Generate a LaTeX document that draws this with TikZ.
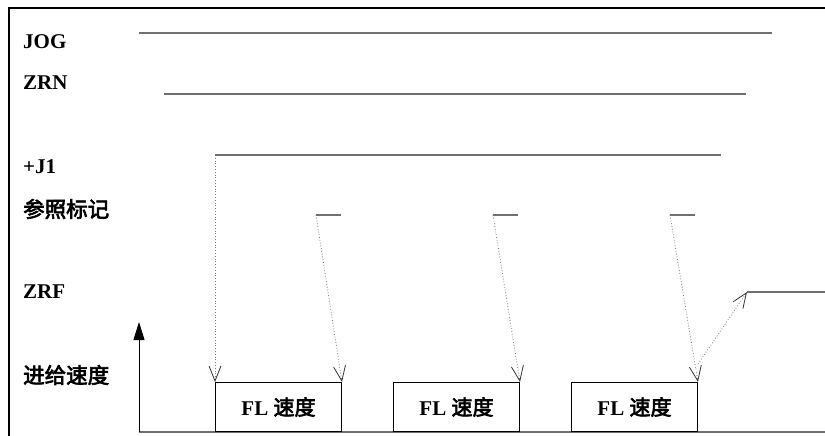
\documentclass[tikz,border=0pt]{standalone}
\usepackage{fontspec}
\setmainfont{Liberation Serif}
\newfontfamily\cjk[FakeBold=3]{Noto Sans CJK SC}
\usetikzlibrary{arrows.meta,positioning}
\definecolor{sig}{RGB}{112,112,112}
\definecolor{trc}{RGB}{120,120,120}

\begin{document}
\begin{tikzpicture}[
    x=1pt, y=-1pt,
    signame/.style={anchor=base west, inner sep=0pt, font=\fontsize{21}{21}\selectfont\bfseries},
    cnname/.style={anchor=west, inner sep=0pt, font=\fontsize{21.5}{21.5}\selectfont\cjk},
    signal/.style={draw=sig, line width=1.6pt},
    speedbox/.style={rectangle, draw, line width=1pt, minimum width=126pt, minimum height=49pt, inner sep=0pt, font=\fontsize{21}{21}\selectfont\bfseries},
    trace/.style={draw=trc, dotted, line width=0.8pt, -{Straight Barb[length=15pt,width=12pt,line width=0.8pt,color=black!80]}},
    axis/.style={line width=1pt, -{Triangle[length=18pt,width=11pt]}}
]
    \useasboundingbox (0,0) rectangle (825,436);
    % frame
    \draw[line width=2.6pt] (9,436) -- (9,8) -- (825,8);

    % signal names
    \node[signame] (jog) at (23,49) {JOG};
    \node[signame] (zrn) at (23,90) {ZRN};
    \node[signame] (jp) at (23,173) {+J1};
    \node[cnname] (mark) at (23,209) {参照标记};
    \node[signame] (zrf) at (23,298) {ZRF};
    \node[cnname] (feed) at (23,375) {进给速度};

    % signal levels
    \coordinate (jogA) at (139,33);  \coordinate (jogB) at (772,33);
    \coordinate (zrnA) at (164,94);  \coordinate (zrnB) at (746,94);
    \coordinate (jpA) at (215,155);  \coordinate (jpB) at (721,155);
    \coordinate (zrfA) at (747,292); \coordinate (zrfB) at (825,292);
    \draw[signal] (jogA) -- (jogB);
    \draw[signal] (zrnA) -- (zrnB);
    \draw[signal] (jpA) -- (jpB);
    \draw[signal] (zrfA) -- (zrfB);
    \foreach \x [count=\i] in {316,493,670} {
        \coordinate (mark\i) at (\x,215);
        \draw[signal] (mark\i) -- ++(25,0);
    }

    % feed axis
    \coordinate (origin) at (139,432);
    \coordinate (top) at (139,322);
    \coordinate (end) at (825,432);
    \draw[signal] (origin) -- (end);
    \draw[axis] (origin) -- (top);

    % FL speed blocks
    \node[speedbox, anchor=south west] (fl1) at (215,432) {FL {\cjk\mdseries 速度}};
    \node[speedbox, right=51pt of fl1] (fl2) {FL {\cjk\mdseries 速度}};
    \node[speedbox, right=51pt of fl2] (fl3) {FL {\cjk\mdseries 速度}};

    \draw[trace] (jpA) -- (fl1.north west);
    \draw[trace] (mark1) -- (fl1.north east);
    \draw[trace] (mark2) -- (fl2.north east);
    \draw[trace] (mark3) -- (fl3.north east);
    \coordinate (fl3up) at ([yshift=18pt]fl3.north east);
    \draw[trace] (fl3up) -- (zrfA);
\end{tikzpicture}
\end{document}
